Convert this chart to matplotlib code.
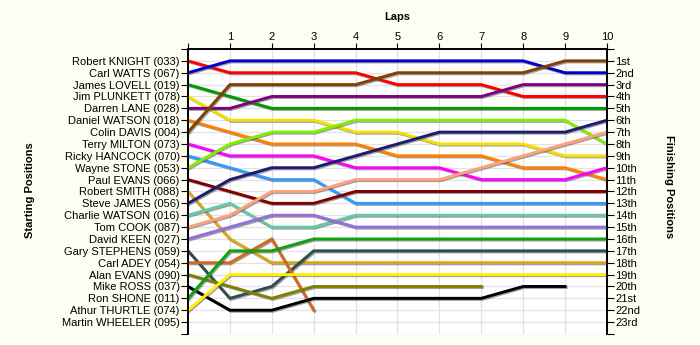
import numpy as np
import matplotlib
matplotlib.use('Agg')
import matplotlib.pyplot as plt
import matplotlib.patheffects as pe

plt.rcParams['font.family'] = ['Liberation Sans', 'DejaVu Sans']

laps = list(range(0, 11))
lap_labels = [''] + [str(n) for n in range(1, 11)]

drivers = ['Robert KNIGHT (033)', 'Carl WATTS (067)', 'James LOVELL (019)',
           'Jim PLUNKETT (078)', 'Darren LANE (028)', 'Daniel WATSON (018)',
           'Colin DAVIS (004)', 'Terry MILTON (073)', 'Ricky HANCOCK (070)',
           'Wayne STONE (053)', 'Paul EVANS (066)', 'Robert SMITH (088)',
           'Steve JAMES (056)', 'Charlie WATSON (016)', 'Tom COOK (087)',
           'David KEEN (027)', 'Gary STEPHENS (059)', 'Carl ADEY (054)',
           'Alan EVANS (090)', 'Mike ROSS (037)', 'Ron SHONE (011)',
           'Athur THURTLE (074)', 'Martin WHEELER (095)']

finish_labels = ['1st', '2nd', '3rd', '4th', '5th', '6th', '7th', '8th', '9th',
                 '10th', '11th', '12th', '13th', '14th', '15th', '16th', '17th',
                 '18th', '19th', '20th', '21st', '22nd', '23rd']

N = np.nan
# position of each driver after every lap (lap 0 = grid), nan = retired
pos_knight   = [1, 2, 2, 2, 2, 3, 3, 3, 4, 4, 4]
pos_watts    = [2, 1, 1, 1, 1, 1, 1, 1, 1, 2, 2]
pos_lovell   = [3, 4, 5, 5, 5, 5, 5, 5, 5, 5, 5]
pos_plunkett = [4, 6, 6, 6, 7, 7, 8, 8, 8, 9, 9]
pos_lane     = [5, 5, 4, 4, 4, 4, 4, 4, 3, 3, 3]
pos_dwatson  = [6, 7, 8, 8, 8, 9, 9, 9, 10, 10, 11]
pos_davis    = [7, 3, 3, 3, 3, 2, 2, 2, 2, 1, 1]
pos_milton   = [8, 9, 9, 9, 10, 10, 10, 11, 11, 11, 10]
pos_hancock  = [9, 10, 11, 11, 13, 13, 13, 13, 13, 13, 13]
pos_stone    = [10, 8, 7, 7, 6, 6, 6, 6, 6, 6, 8]
pos_pevans   = [11, 12, 13, 13, 12, 12, 12, 12, 12, 12, 12]
pos_smith    = [12, 16, 18, 18, 18, 18, 18, 18, 18, 18, 18]
pos_james    = [13, 11, 10, 10, 9, 8, 7, 7, 7, 7, 6]
pos_cwatson  = [14, 13, 15, 15, 14, 14, 14, 14, 14, 14, 14]
pos_cook     = [15, 14, 12, 12, 11, 11, 11, 10, 9, 8, 7]
pos_keen     = [16, 15, 14, 14, 15, 15, 15, 15, 15, 15, 15]
pos_stephens = [17, 21, 20, 17, 17, 17, 17, 17, 17, 17, 17]
pos_adey     = [18, 18, 16, 22, N, N, N, N, N, N, N]
pos_aevans   = [19, 20, 21, 20, 20, 20, 20, 20, N, N, N]
pos_ross     = [20, 22, 22, 21, 21, 21, 21, 21, 20, 20, N]
pos_shone    = [21, 17, 17, 16, 16, 16, 16, 16, 16, 16, 16]
pos_thurtle  = [22, 19, 19, 19, 19, 19, 19, 19, 19, 19, 19]

series = [pos_knight, pos_watts, pos_lovell, pos_plunkett, pos_lane, pos_dwatson,
          pos_davis, pos_milton, pos_hancock, pos_stone, pos_pevans, pos_smith,
          pos_james, pos_cwatson, pos_cook, pos_keen, pos_stephens, pos_adey,
          pos_aevans, pos_ross, pos_shone, pos_thurtle]

colors = ['#ff0000', '#0000cd', '#009900', '#f5e000', '#800080', '#ff8000',
          '#804000', '#ff00ff', '#3399ff', '#80f000', '#800000', '#daa520',
          '#1c1c70', '#66c8a8', '#ffa07a', '#9370db', '#2f4f4f', '#d2691e',
          '#808000', '#000000', '#10a010', '#ffee00']

bg = '#fdfdf1'
fig = plt.figure(figsize=(7, 3.45), dpi=100, facecolor=bg)
ax = fig.add_axes([0.2686, 0.032, 0.5985, 0.826])
ax.set_facecolor('white')

shadow = [pe.SimpleLineShadow(offset=(0.8, -0.8), shadow_color='#555555', alpha=0.55),
          pe.Normal()]
for s, c in zip(series, colors):
    ax.plot(laps, s, color=c, lw=2.1, solid_joinstyle='miter',
            path_effects=shadow, zorder=3)

ax.set_xlim(0, 10)
ax.set_ylim(24, 0)

ax.set_xticks(laps)
ax.set_xticklabels(lap_labels)
ax.xaxis.tick_top()
ax.tick_params(axis='x', top=True, bottom=False, length=4, pad=1,
               labelsize=8, colors='black')

yt = list(range(0, 25))
ax.set_yticks(yt)
ax.set_yticklabels([''] + drivers + [''])
ax.tick_params(axis='y', length=5, pad=1, labelsize=8, colors='black')

ax2 = ax.twinx()
ax2.set_ylim(24, 0)
ax2.set_yticks(yt)
ax2.set_yticklabels([''] + finish_labels + [''])
ax2.tick_params(axis='y', length=5, pad=1, labelsize=8, colors='black')

for a in (ax, ax2):
    a.spines['bottom'].set_visible(False)
    for sp in ('left', 'right', 'top'):
        a.spines[sp].set_linewidth(1.2)

ax.grid(True, color='#e2e2e2', lw=0.9, zorder=0)
ax.set_axisbelow(True)

fig.text(0.567, 0.95, 'Laps', ha='center', va='center', fontsize=8, fontweight='bold')
fig.text(0.043, 0.45, 'Starting Positions', ha='center', va='center',
         rotation=90, fontsize=8, fontweight='bold')
fig.text(0.955, 0.46, 'Finishing Positions', ha='center', va='center',
         rotation=270, fontsize=8, fontweight='bold')

fig.savefig('out.png', dpi=100, facecolor=bg)
